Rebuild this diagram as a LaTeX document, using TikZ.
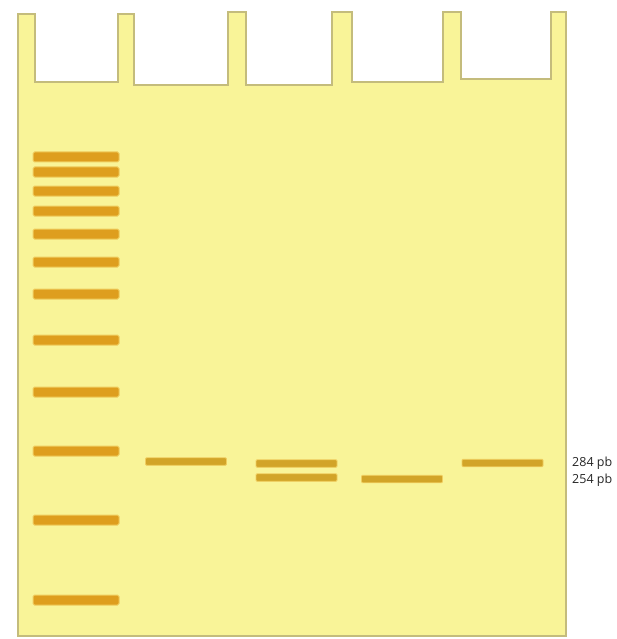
\documentclass[tikz,border=0pt]{standalone}
\usepackage{fontspec}
\setmainfont{Open Sans}
\definecolor{gel}{RGB}{249,244,152}
\definecolor{gelline}{RGB}{196,188,124}
\definecolor{ladderband}{RGB}{222,158,30}
\definecolor{sampleband}{RGB}{210,164,40}
\definecolor{halo}{RGB}{240,205,95}

\begin{document}
\begin{tikzpicture}[
  x=1pt,y=-1pt,
  ladder/.style={fill=ladderband,draw=halo,line width=1pt,rounded corners=1.5pt,inner sep=0pt,minimum width=86pt,minimum height=10pt},
  sample/.style={fill=sampleband,draw=halo,line width=0.8pt,rounded corners=1pt,inner sep=0pt,minimum width=81pt,minimum height=7.5pt},
  size/.style={anchor=west,inner sep=0pt,font=\fontsize{12.5}{14}\selectfont,text=black!85}
]
\useasboundingbox (0,0) rectangle (617,639);
% gel with wells
\draw[gelline,fill=gel,line width=1.5pt]
  (18,14) -- (35,14) -- (35,82) -- (118,82) -- (118,14) -- (134,14) -- (134,85)
  -- (228,85) -- (228,12) -- (246,12) -- (246,85) -- (332,85) -- (332,12)
  -- (352,12) -- (352,82) -- (443,82) -- (443,12) -- (461,12) -- (461,79)
  -- (551,79) -- (551,12) -- (566,12) -- (566,636) -- (18,636) -- cycle;
% marker lane
\foreach \y [count=\i] in {157,172,191,211,234,262,294,340,392,451,520,600}
  \node[ladder] (m\i) at (76,\y) {};
% samples
\node[sample] (s2) at (186,461.5) {};
\node[sample] (s3a) at (296.5,463.5) {};
\node[sample] (s3b) at (296.5,477.5) {};
\node[sample] (s4) at (402,479) {};
\node[sample] (s5) at (502.5,463) {};
% sizes
\node[size] (bp284) at (572,463) {284 pb};
\node[size] (bp254) at (572,480) {254 pb};
\end{tikzpicture}
\end{document}
